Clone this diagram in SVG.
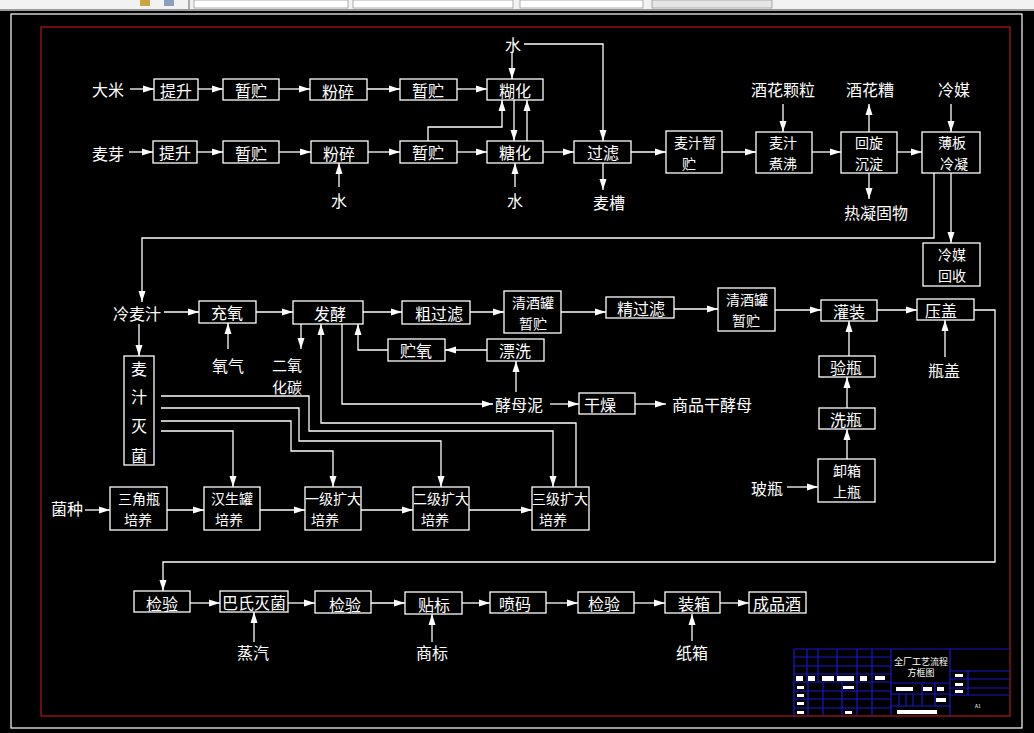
<svg xmlns="http://www.w3.org/2000/svg" width="1034" height="733" viewBox="0 0 1034 733">
<defs>
<marker id="ah" markerUnits="userSpaceOnUse" markerWidth="12" markerHeight="9" refX="11" refY="4" orient="auto">
<path d="M0,0.5 L11,4 L0,7.5 z" fill="#fff"/>
</marker>
<style>
.n rect{fill:none;stroke:#fff;stroke-width:1.3}
text{fill:#fff;font-family:"Noto Sans CJK SC","Noto Sans",sans-serif;font-size:16px;text-anchor:middle;dominant-baseline:central}
.n .s{font-size:14px}
.c path{fill:none;stroke:#fff;stroke-width:1.3}
.a{marker-end:url(#ah)}
.tb line{stroke:#1818c8;stroke-width:1.2}
.tb rect{fill:#fff}
.tt{font-size:9px}
</style>
</defs>
<rect x="0" y="0" width="1034" height="733" fill="#000"/>
<g id="ui">
<rect x="0" y="0" width="1034" height="9" fill="#f2f2f2"/>
<rect x="0" y="9" width="1034" height="2" fill="#9a9a9a"/>
<rect x="188" y="0" width="2" height="9" fill="#aaa"/>
<rect x="194" y="0" width="154" height="8" fill="#fff" stroke="#999" stroke-width="0.8"/>
<rect x="353" y="0" width="160" height="8" fill="#fff" stroke="#999" stroke-width="0.8"/>
<rect x="520" y="0" width="123" height="8" fill="#fff" stroke="#999" stroke-width="0.8"/>
<rect x="652" y="0" width="120" height="8" fill="#e6e6e6" stroke="#999" stroke-width="0.8"/>
<rect x="140" y="0" width="10" height="6" fill="#c9a640"/>
<rect x="164" y="0" width="10" height="6" fill="#8aa0c0"/>
</g>
<rect x="11" y="14" width="1011" height="714" fill="none" stroke="#fff" stroke-width="1.2"/>
<rect x="41" y="27" width="969" height="689" fill="none" stroke="#b01818" stroke-width="1.2"/>

<g class="c" id="connectors">
<path class="a" d="M130,89 H154"/>
<path class="a" d="M198,89 H223"/>
<path class="a" d="M279,89 H310"/>
<path class="a" d="M367,89 H400"/>
<path class="a" d="M457,89 H487"/>
<path class="a" d="M129,152 H153"/>
<path class="a" d="M197,152 H223"/>
<path class="a" d="M279,152 H311"/>
<path class="a" d="M368,152 H400"/>
<path class="a" d="M457,152 H487"/>
<path class="a" d="M543,152 H574"/>
<path class="a" d="M631,152 H666"/>
<path class="a" d="M722,152 H756"/>
<path class="a" d="M812,152 H841"/>
<path class="a" d="M897,152 H922"/>
<path class="a" d="M512,53 V79"/>
<path class="a" d="M524,44 H603 V141"/>
<path class="a" d="M603,163 V190"/>
<path class="a" d="M339,187 V163"/>
<path class="a" d="M515,187 V163"/>
<path class="a" d="M428,141 V127 H502 V100"/>
<path class="a" d="M514,100 V141"/>
<path class="a" d="M527,141 V100"/>
<path class="a" d="M783,104 V132"/>
<path class="a" d="M869,132 V104"/>
<path class="a" d="M951,104 V132"/>
<path class="a" d="M869,173 V199"/>
<path class="a" d="M951,173 V243"/>
<path class="a" d="M934,173 V238 H142 V302"/>
<path class="a" d="M164,312 H199"/>
<path class="a" d="M256,312 H293"/>
<path class="a" d="M363,312 H402"/>
<path class="a" d="M470,312 H504"/>
<path class="a" d="M561,312 H606"/>
<path class="a" d="M674,309 H718"/>
<path class="a" d="M775,310 H821"/>
<path class="a" d="M877,310 H917"/>
<path class="a" d="M974,310 H995 V562 H163 V591"/>
<path class="a" d="M139,324 V356"/>
<path class="a" d="M228,349 V323"/>
<path class="a" d="M301,324 V349"/>
<path class="a" d="M487,350 H445"/>
<path class="a" d="M388,350 H358 V324"/>
<path class="a" d="M516,392 V361"/>
<path class="a" d="M342,324 V404 H493"/>
<path class="a" d="M550,404 H579"/>
<path class="a" d="M635,404 H666"/>
<path class="a" d="M576,487 V423 H321 V324"/>
<path class="a" d="M161,396 H309 V431 H553 V487"/>
<path class="a" d="M161,408 H299 V441 H441 V487"/>
<path class="a" d="M161,421 H291 V451 H333 V487"/>
<path class="a" d="M161,431 H233 V487"/>
<path class="a" d="M945,357 V320"/>
<path class="a" d="M849,356 V321"/>
<path class="a" d="M847,408 V377"/>
<path class="a" d="M847,459 V429"/>
<path class="a" d="M787,487 H818"/>
<path class="a" d="M85,510 H110"/>
<path class="a" d="M167,510 H204"/>
<path class="a" d="M260,510 H305"/>
<path class="a" d="M361,510 H413"/>
<path class="a" d="M469,510 H532"/>
<path class="a" d="M190,603 H220"/>
<path class="a" d="M288,603 H315"/>
<path class="a" d="M371,603 H405"/>
<path class="a" d="M462,603 H490"/>
<path class="a" d="M546,603 H578"/>
<path class="a" d="M634,603 H665"/>
<path class="a" d="M720,603 H749"/>
<path class="a" d="M254,642 V612"/>
<path class="a" d="M432,642 V614"/>
<path class="a" d="M692,641 V614"/>
</g>

<g id="labels">
<text x="108" y="89">大米</text>
<text x="108" y="153">麦芽</text>
<text x="513" y="44">水</text>
<text x="339" y="200">水</text>
<text x="515" y="200">水</text>
<text x="609" y="202">麦槽</text>
<text x="783" y="89">酒花颗粒</text>
<text x="870" y="89">酒花糟</text>
<text x="954" y="89">冷媒</text>
<text x="876" y="212">热凝固物</text>
<text x="137" y="313">冷麦汁</text>
<text x="228" y="365">氧气</text>
<text x="287" y="364" style="font-size:15px">二氧</text>
<text x="287" y="386" style="font-size:15px">化碳</text>
<text x="519" y="404">酵母泥</text>
<text x="712" y="404">商品干酵母</text>
<text x="944" y="370">瓶盖</text>
<text x="767" y="488">玻瓶</text>
<text x="67" y="508">菌种</text>
<text x="253" y="652">蒸汽</text>
<text x="432" y="652">商标</text>
<text x="692" y="652">纸箱</text>
</g>

<g class="n" id="n-tisheng1"><rect x="154" y="79" width="44" height="21"/><text x="176" y="90">提升</text></g>
<g class="n" id="n-zanzhu1"><rect x="223" y="79" width="56" height="21"/><text x="251" y="90">暂贮</text></g>
<g class="n" id="n-fensui1"><rect x="310" y="79" width="57" height="21"/><text x="338" y="91">粉碎</text></g>
<g class="n" id="n-zanzhu2"><rect x="400" y="79" width="57" height="21"/><text x="428" y="90">暂贮</text></g>
<g class="n" id="n-huhua"><rect x="487" y="79" width="56" height="21"/><text x="515" y="90">糊化</text></g>
<g class="n" id="n-tisheng2"><rect x="153" y="141" width="44" height="22"/><text x="175" y="152">提升</text></g>
<g class="n" id="n-zanzhu3"><rect x="223" y="141" width="56" height="22"/><text x="251" y="153">暂贮</text></g>
<g class="n" id="n-fensui2"><rect x="311" y="141" width="57" height="22"/><text x="339" y="153">粉碎</text></g>
<g class="n" id="n-zanzhu4"><rect x="400" y="141" width="57" height="22"/><text x="428" y="152">暂贮</text></g>
<g class="n" id="n-tanghua"><rect x="487" y="141" width="56" height="22"/><text x="515" y="152">糖化</text></g>
<g class="n" id="n-guolv"><rect x="574" y="141" width="57" height="22"/><text x="603" y="152">过滤</text></g>
<g class="n" id="n-maizhizanzhu"><rect x="666" y="131" width="56" height="42"/><text class="s" x="695" y="142">麦汁暂</text><text class="s" x="689" y="163">贮</text></g>
<g class="n" id="n-zhufei"><rect x="756" y="132" width="56" height="41"/><text class="s" x="783" y="142">麦汁</text><text class="s" x="783" y="163">煮沸</text></g>
<g class="n" id="n-huixuan"><rect x="841" y="132" width="56" height="41"/><text class="s" x="869" y="142">回旋</text><text class="s" x="869" y="163">沉淀</text></g>
<g class="n" id="n-baoban"><rect x="922" y="132" width="58" height="41"/><text class="s" x="952" y="142">薄板</text><text class="s" x="954" y="163">冷凝</text></g>
<g class="n" id="n-lengmeihuishou"><rect x="923" y="243" width="57" height="43"/><text class="s" x="952" y="254">冷媒</text><text class="s" x="952" y="275">回收</text></g>
<g class="n" id="n-chongyang"><rect x="199" y="301" width="57" height="22"/><text x="227" y="312">充氧</text></g>
<g class="n" id="n-fajiao"><rect x="293" y="301" width="70" height="23"/><text x="330" y="313">发酵</text></g>
<g class="n" id="n-cuguolv"><rect x="402" y="301" width="68" height="23"/><text x="439" y="313">粗过滤</text></g>
<g class="n" id="n-qingjiu1"><rect x="504" y="291" width="57" height="42"/><text class="s" x="533" y="302">清酒罐</text><text class="s" x="533" y="323">暂贮</text></g>
<g class="n" id="n-jingguolv"><rect x="606" y="297" width="68" height="21"/><text x="641" y="308">精过滤</text></g>
<g class="n" id="n-qingjiu2"><rect x="718" y="288" width="57" height="43"/><text class="s" x="747" y="299">清酒罐</text><text class="s" x="746" y="320">暂贮</text></g>
<g class="n" id="n-guanzhuang"><rect x="821" y="300" width="56" height="21"/><text x="849" y="311">灌装</text></g>
<g class="n" id="n-yagai"><rect x="917" y="299" width="57" height="21"/><text x="941" y="310">压盖</text></g>
<g class="n" id="n-zhuyang"><rect x="388" y="339" width="57" height="22"/><text x="416" y="350">贮氧</text></g>
<g class="n" id="n-piaoxi"><rect x="487" y="339" width="57" height="22"/><text x="515" y="350">漂洗</text></g>
<g class="n" id="n-miejun"><rect x="124" y="356" width="30" height="109"/><text x="139" y="368">麦</text><text x="139" y="396">汁</text><text x="139" y="425">灭</text><text x="139" y="455">菌</text></g>
<g class="n" id="n-ganzao"><rect x="579" y="393" width="56" height="21"/><text x="600" y="404">干燥</text></g>
<g class="n" id="n-yanping"><rect x="819" y="356" width="56" height="21"/><text x="846" y="367">验瓶</text></g>
<g class="n" id="n-xiping"><rect x="819" y="408" width="56" height="21"/><text x="846" y="419">洗瓶</text></g>
<g class="n" id="n-xiexiang"><rect x="818" y="459" width="57" height="43"/><text class="s" x="847" y="470">卸箱</text><text class="s" x="847" y="491">上瓶</text></g>
<g class="n" id="n-sanjiaoping"><rect x="110" y="487" width="57" height="43"/><text class="s" x="139" y="498">三角瓶</text><text class="s" x="138" y="519">培养</text></g>
<g class="n" id="n-hansheng"><rect x="204" y="487" width="56" height="43"/><text class="s" x="232" y="498">汉生罐</text><text class="s" x="229" y="519">培养</text></g>
<g class="n" id="n-yiji"><rect x="305" y="487" width="56" height="43"/><text class="s" x="333" y="498">一级扩大</text><text class="s" x="325" y="519">培养</text></g>
<g class="n" id="n-erji"><rect x="413" y="487" width="56" height="43"/><text class="s" x="441" y="498">二级扩大</text><text class="s" x="435" y="519">培养</text></g>
<g class="n" id="n-sanji"><rect x="532" y="487" width="57" height="43"/><text class="s" x="560" y="498">三级扩大</text><text class="s" x="553" y="519">培养</text></g>
<g class="n" id="n-jianyan1"><rect x="134" y="591" width="56" height="21"/><text x="162" y="603">检验</text></g>
<g class="n" id="n-bashi"><rect x="220" y="591" width="68" height="21"/><text x="254" y="602">巴氏灭菌</text></g>
<g class="n" id="n-jianyan2"><rect x="315" y="591" width="56" height="22"/><text x="345" y="604">检验</text></g>
<g class="n" id="n-tiebiao"><rect x="405" y="592" width="57" height="22"/><text x="434" y="604">贴标</text></g>
<g class="n" id="n-penma"><rect x="490" y="592" width="56" height="21"/><text x="515" y="603">喷码</text></g>
<g class="n" id="n-jianyan3"><rect x="578" y="592" width="56" height="21"/><text x="604" y="603">检验</text></g>
<g class="n" id="n-zhuangxiang"><rect x="665" y="592" width="55" height="21"/><text x="694" y="603">装箱</text></g>
<g class="n" id="n-chengpin"><rect x="749" y="592" width="57" height="21"/><text x="777" y="603">成品酒</text></g>

<g class="tb" id="titleblock">
<line x1="794" y1="649" x2="1010" y2="649"/>
<line x1="794" y1="649" x2="794" y2="716"/>
<line x1="891" y1="649" x2="891" y2="716"/>
<line x1="950" y1="649" x2="950" y2="716"/>
<line x1="794" y1="657" x2="891" y2="657"/>
<line x1="794" y1="666" x2="891" y2="666"/>
<line x1="794" y1="674" x2="891" y2="674"/>
<line x1="794" y1="682" x2="891" y2="682"/>
<line x1="794" y1="691" x2="891" y2="691"/>
<line x1="794" y1="699" x2="891" y2="699"/>
<line x1="794" y1="708" x2="891" y2="708"/>
<line x1="807" y1="649" x2="807" y2="682"/>
<line x1="818" y1="649" x2="818" y2="682"/>
<line x1="837" y1="649" x2="837" y2="682"/>
<line x1="857" y1="649" x2="857" y2="716"/>
<line x1="872" y1="649" x2="872" y2="716"/>
<line x1="808" y1="682" x2="808" y2="716"/>
<line x1="823" y1="682" x2="823" y2="716"/>
<line x1="842" y1="682" x2="842" y2="716"/>
<line x1="891" y1="683" x2="950" y2="683"/>
<line x1="891" y1="694" x2="950" y2="694"/>
<line x1="891" y1="706" x2="950" y2="706"/>
<line x1="899" y1="694" x2="899" y2="706"/>
<line x1="906" y1="694" x2="906" y2="706"/>
<line x1="913" y1="694" x2="913" y2="706"/>
<line x1="922" y1="683" x2="922" y2="706"/>
<line x1="935" y1="683" x2="935" y2="706"/>
<line x1="950" y1="671" x2="1010" y2="671"/>
<line x1="950" y1="679" x2="1010" y2="679"/>
<line x1="950" y1="688" x2="1010" y2="688"/>
<line x1="950" y1="695" x2="1010" y2="695"/>
<line x1="968" y1="671" x2="968" y2="695"/>
<rect x="796" y="676" width="7" height="5"/>
<rect x="808" y="676" width="7" height="5"/>
<rect x="822" y="676" width="12" height="5"/>
<rect x="837" y="676" width="17" height="5"/>
<rect x="860" y="676" width="7" height="5"/>
<rect x="875" y="676" width="10" height="4"/>
<rect x="797" y="686" width="7" height="3"/>
<rect x="843" y="686" width="11" height="3"/>
<rect x="797" y="694" width="7" height="3"/>
<rect x="797" y="702" width="7" height="3"/>
<rect x="797" y="711" width="7" height="3"/>
<rect x="845" y="711" width="7" height="3"/>
<rect x="896" y="687" width="17" height="4"/>
<rect x="923" y="687" width="9" height="4"/>
<rect x="937" y="687" width="7" height="4"/>
<rect x="936" y="698" width="10" height="4"/>
<rect x="897" y="710" width="40" height="4"/>
<rect x="955" y="674" width="8" height="3"/>
<rect x="955" y="683" width="8" height="3"/>
<rect x="955" y="690" width="8" height="3"/>
<text class="tt" x="921" y="661">全厂工艺流程</text>
<text class="tt" x="921" y="672">方框图</text>
<text x="978" y="705" style="font-size:5px">A1</text>
</g>
</svg>
